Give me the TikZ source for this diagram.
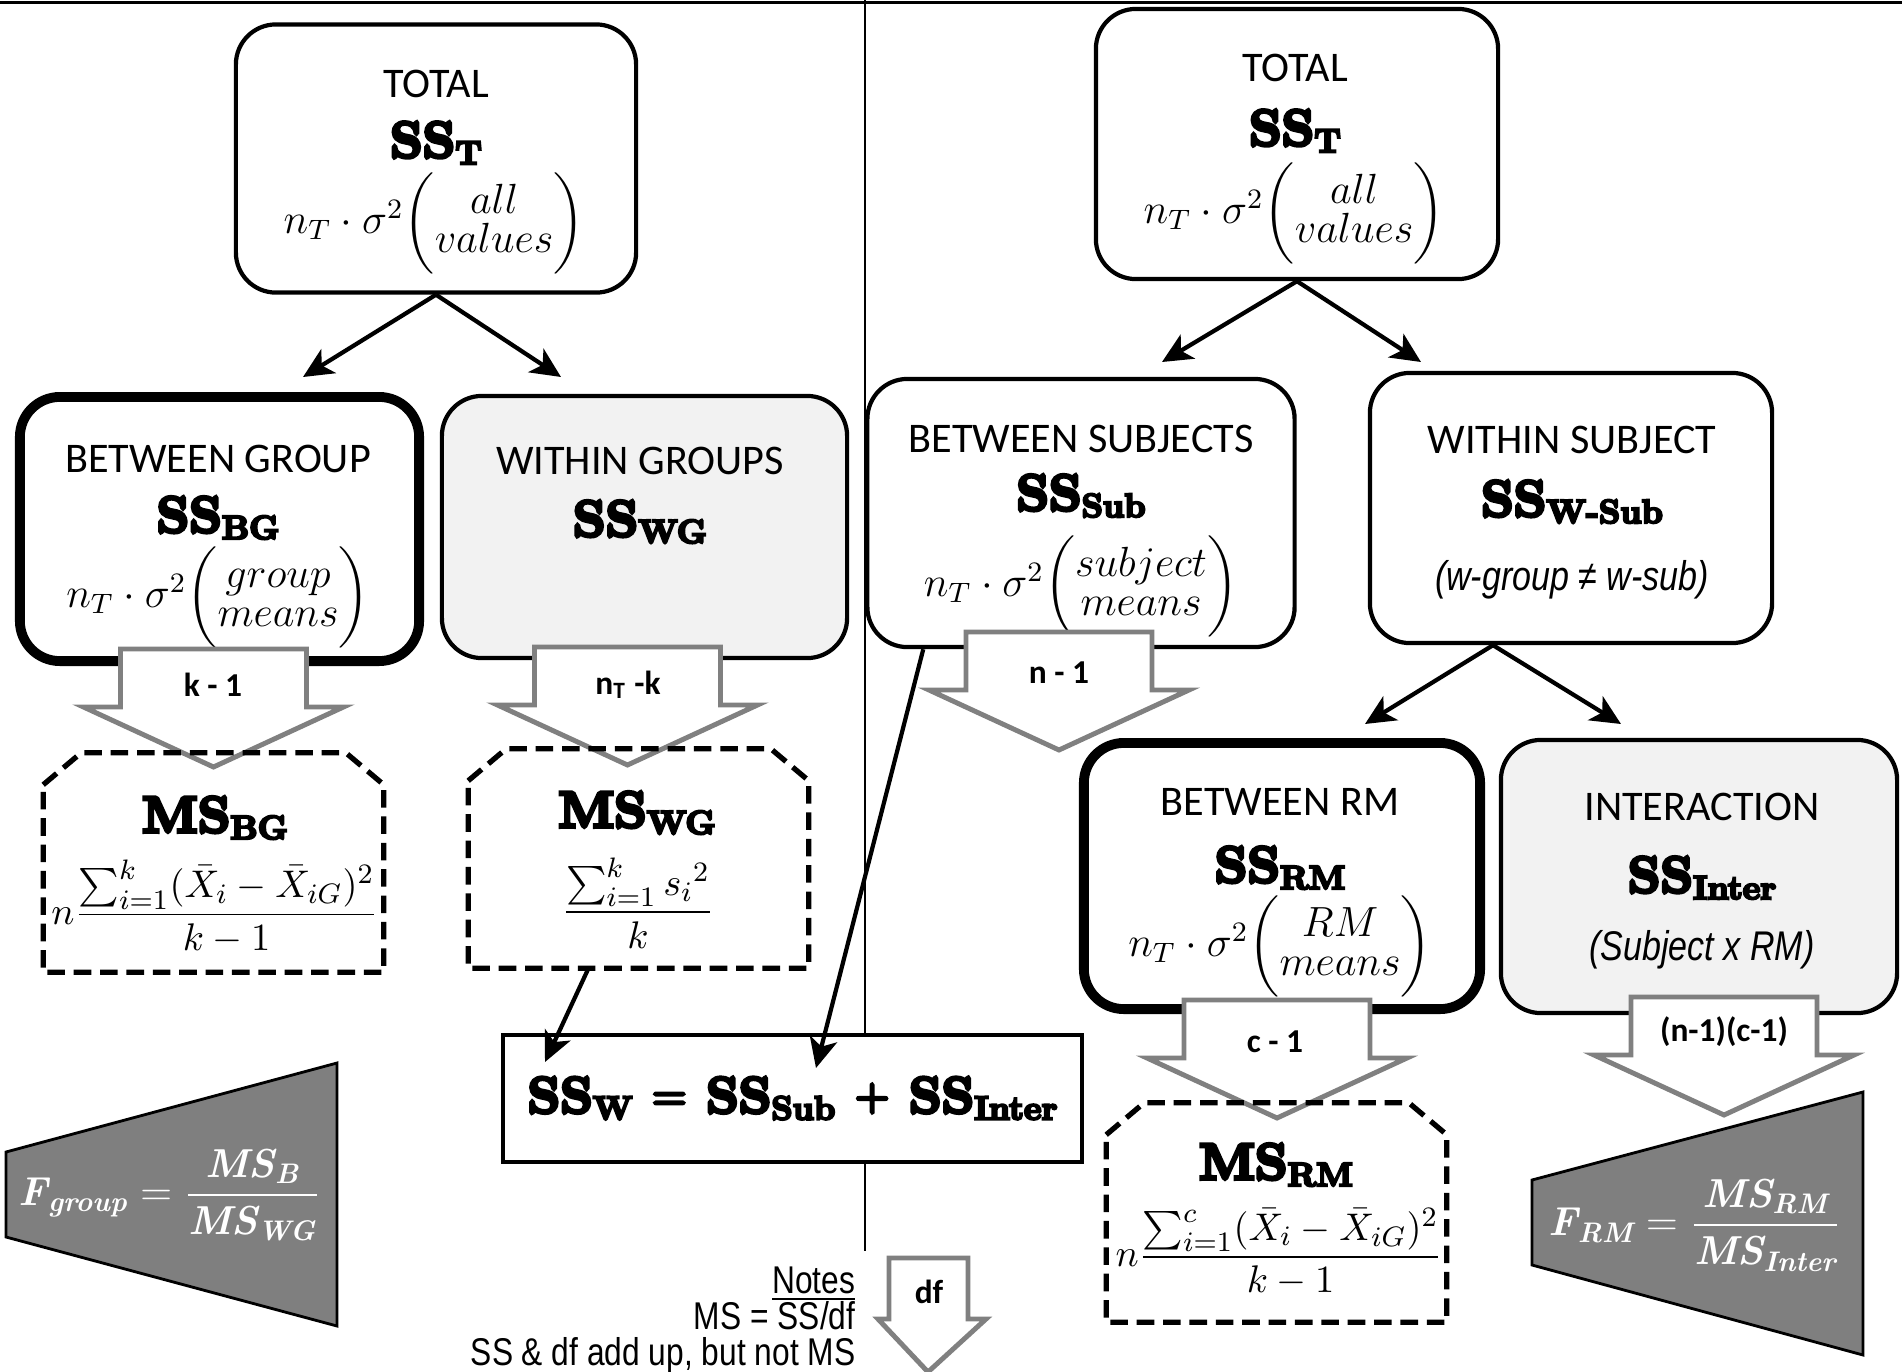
\documentclass[tikz,border=0pt]{standalone}
\usepackage{amsmath}
\usepackage{fontspec}
\setmainfont{Carlito}
\newfontfamily\narrowsans[FakeStretch=0.82]{Liberation Sans}
\newfontfamily\heavyserif[FakeBold=7]{lmroman10-bold.otf}
\newfontfamily\ratiofont{lmroman10-bolditalic.otf}
\usetikzlibrary{arrows.meta,calc}

\definecolor{boxgrey}{HTML}{F2F2F2}
\definecolor{arrowgrey}{HTML}{808080}
\definecolor{fgrey}{HTML}{7F7F7F}

% heavy name with a lowered index, e.g. SS_BG
\newcommand{\heavyname}[2]{{\heavyserif\fontsize{14.5}{15}\selectfont #1\raisebox{-0.3ex}{\fontsize{9.5}{9.5}\selectfont #2}}}
\newcommand{\heavysign}[1]{\raisebox{0.2ex}{\heavyserif\fontsize{11}{11}\selectfont #1}}
% two stacked words in brackets
\newcommand{\spread}[2]{\biggl(\begin{array}{@{}c@{}}#1\\[-3pt]#2\end{array}\biggr)}
% F ratio in bold italic
\newcommand{\rt}[1]{\text{\ratiofont #1}}
\newcommand{\fratio}[3]{$\displaystyle\rt{F}_{\rt{#1}}=\frac{\rt{MS}_{\rt{#2}}}{\rt{MS}_{\rt{#3}}}$}

\tikzset{
  ssbox/.style={draw, line width=1.2pt, rounded corners=0.4cm, fill=white,
    minimum width=4cm, minimum height=2.68cm},
  mainbox/.style={ssbox, line width=2.8pt},
  restbox/.style={ssbox, fill=boxgrey},
  msbox/.style={minimum width=3.39cm, minimum height=2.18cm, inner sep=0pt},
  msline/.style={line width=1.5pt, dash pattern=on 5pt off 2.5pt},
  headtext/.style={font=\fontsize{12}{14}\selectfont},
  formula/.style={font=\fontsize{12}{14}\selectfont, inner sep=0pt},
  msformula/.style={font=\fontsize{11}{13}\selectfont},
  remark/.style={font=\narrowsans\itshape\fontsize{11.8}{14}\selectfont},
  dflabel/.style={font=\bfseries\fontsize{9.5}{11}\selectfont},
  splitarrow/.style={-{Stealth[length=0.3cm,width=0.28cm,inset=0.08cm]}, line width=1.2pt},
  dfline/.style={draw=arrowgrey, line width=1.4pt, fill=white, line join=miter},
  ftrap/.style={fill=fgrey, draw=black, line width=0.8pt},
  ftext/.style={text=white, font=\fontsize{11.5}{13}\selectfont},
  dfarrow/.pic={\path[dfline] (-93,-58) -- (93,-58) -- (93,0) -- (130,0) -- (0,60)
    -- (-130,0) -- (-93,0) -- cycle;}
}

\begin{document}
\begin{tikzpicture}[x=0.01cm, y=-0.01cm, inner sep=1pt]
\useasboundingbox[fill=white] (0,0) rectangle (1902,1372);

% frame
\draw[line width=0.6pt] (0,2.5) -- (1902,2.5);
\draw[line width=0.6pt] (865,0) -- (865,1251);

% sum of the within parts
\node[draw, line width=1pt, fill=white, minimum width=5.79cm, minimum height=1.27cm] (ssw) at (792.5,1098.5)
  {{\heavyserif\fontsize{14.5}{15}\selectfont \heavyname{SS}{W} \heavysign{=} \heavyname{SS}{Sub} \heavysign{+} \heavyname{SS}{Inter}}};

% between groups design
\node[ssbox] (totL) at (436,158.5) {};
\node[mainbox, minimum width=3.99cm, minimum height=2.64cm] (bg) at (219.5,529) {};
\node[restbox, minimum width=4.05cm, minimum height=2.62cm] (wg) at (644.5,527) {};

\node[headtext] (totL head) at (436,84) {TOTAL};
\node (totL ss) at (436,143) {\heavyname{SS}{T}};
\node[formula] (totL var) at (434,223) {$n_T\cdot\sigma^2\spread{all}{values}$};

\node[headtext] (bg head) at (218,459) {BETWEEN GROUP};
\node (bg ss) at (218,518) {\heavyname{SS}{BG}};
\node[formula] (bg var) at (218,597) {$n_T\cdot\sigma^2\spread{group}{means}$};

\node[headtext] (wg head) at (640,461) {WITHIN GROUPS};
\node (wg ss) at (640,522) {\heavyname{SS}{WG}};

% repeated measures design
\node[ssbox, minimum width=4.02cm, minimum height=2.7cm] (totR) at (1297,144) {};
\node[ssbox, minimum width=4.27cm] (bsub) at (1081,513) {};
\node[ssbox, minimum width=4.02cm, minimum height=2.7cm] (wsub) at (1571,508) {};
\node[mainbox, minimum width=3.96cm, minimum height=2.66cm] (brm) at (1282,876) {};
\node[restbox, minimum width=3.96cm, minimum height=2.73cm] (inter) at (1699,876.5) {};

\node[headtext] (totR head) at (1295,68) {TOTAL};
\node (totR ss) at (1295,131) {\heavyname{SS}{T}};
\node[formula] (totR var) at (1294,213) {$n_T\cdot\sigma^2\spread{all}{values}$};

\node[headtext] (bsub head) at (1081,439) {BETWEEN SUBJECTS};
\node (bsub ss) at (1081,496) {\heavyname{SS}{Sub}};
\node[formula] (bsub var) at (1081,586) {$n_T\cdot\sigma^2\spread{subject}{means}$};

\node[headtext] (wsub head) at (1572,440) {WITHIN SUBJECT};
\node (wsub ss) at (1572,502) {\heavyname{SS}{W-Sub}};
\node[remark] (wsub note) at (1572,580) {(w-group ≠ w-sub)};

\node[headtext] (brm head) at (1280,802) {BETWEEN RM};
\node (brm ss) at (1280,868) {\heavyname{SS}{RM}};
\node[formula] (brm var) at (1280,946) {$n_T\cdot\sigma^2\spread{RM}{means}$};

\node[headtext] (inter head) at (1702,807) {INTERACTION};
\node (inter ss) at (1702,878) {\heavyname{SS}{Inter}};
\node[remark] (inter note) at (1702,950) {(Subject x RM)};

% splits
\coordinate (bg in) at (303,377);
\coordinate (wg in) at (561,377);
\coordinate (bsub in) at (1162,362);
\coordinate (wsub in) at (1421,362);
\coordinate (brm in) at (1365,724);
\coordinate (inter in) at (1621,724);
\coordinate (ssw left) at (545,1062);
\coordinate (ssw sub) at (816,1068);

\draw[splitarrow] (totL.south) -- (bg in);
\draw[splitarrow] (totL.south) -- (wg in);
\draw[splitarrow] (totR.south) -- (bsub in);
\draw[splitarrow] (totR.south) -- (wsub in);
\draw[splitarrow] ($(wsub.south)+(-78,0)$) -- (brm in);
\draw[splitarrow] ($(wsub.south)+(-78,0)$) -- (inter in);
\draw[splitarrow] ($(bsub.south west)+(58,0)$) -- (ssw sub);

% degrees of freedom
\pic at (213.5,707) {dfarrow};
\pic at (627.5,705) {dfarrow};
\pic at (1059,690) {dfarrow};
\pic at (1277,1058) {dfarrow};
\pic at (1724,1055) {dfarrow};
\node[dflabel] (bg df) at (213,685) {k - 1};
\node[dflabel] (wg df) at (628,685) {n\textsubscript{T} -k};
\node[dflabel] (bsub df) at (1059,673) {n - 1};
\node[dflabel] (brm df) at (1275,1042) {c - 1};
\node[dflabel] (inter df) at (1724,1032) {(n-1)(c-1)};

% mean squares
\node[msbox] (msbg) at (213.5,862.5) {};
\node[msbox] (mswg) at (638.5,858.5) {};
\node[msbox] (msrm) at (1276.5,1212.5) {};
\draw[msline] ([yshift=-0.32cm]msbg.north west) -- ([xshift=0.38cm]msbg.north west)
  -- ([xshift=-0.38cm]msbg.north east) -- ([yshift=-0.32cm]msbg.north east)
  -- (msbg.south east) -- (msbg.south west) -- cycle;
\draw[msline] ([yshift=-0.32cm]mswg.north west) -- ([xshift=0.38cm]mswg.north west)
  -- ([xshift=-0.38cm]mswg.north east) -- ([yshift=-0.32cm]mswg.north east)
  -- (mswg.south east) -- (mswg.south west) -- cycle;
\draw[msline] ([yshift=-0.32cm]msrm.north west) -- ([xshift=0.38cm]msrm.north west)
  -- ([xshift=-0.38cm]msrm.north east) -- ([yshift=-0.32cm]msrm.north east)
  -- (msrm.south east) -- (msrm.south west) -- cycle;

\node (msbg ms) at (215,818) {\heavyname{MS}{BG}};
\node[msformula] (msbg eq) at (215,907)
  {$\displaystyle n\frac{\sum_{i=1}^{k}(\bar{X}_i-\bar{X}_{iG})^2}{k-1}$};
\node (mswg ms) at (637,813) {\heavyname{MS}{WG}};
\node[msformula] (mswg eq) at (638,903) {$\displaystyle\frac{\sum_{i=1}^{k}{s_i}^2}{k}$};
\node (msrm ms) at (1276,1165) {\heavyname{MS}{RM}};
\node[msformula] (msrm eq) at (1279,1252)
  {$\displaystyle n\frac{\sum_{i=1}^{c}(\bar{X}_i-\bar{X}_{iG})^2}{k-1}$};

\draw[splitarrow] ($(mswg.south)+(-50,0)$) -- (ssw left);

% F ratios
\draw[ftrap] (6,1152) -- (337,1063) -- (337,1326) -- (6,1237) -- cycle;
\node[ftext] (fgroup) at (170,1195) {\fratio{group}{B}{WG}};
\draw[ftrap] (1532,1180) -- (1863,1092) -- (1863,1355) -- (1532,1265) -- cycle;
\node[ftext] (frm) at (1695,1225) {\fratio{RM}{RM}{Inter}};

% notes
\node[font=\narrowsans\fontsize{11}{10.3}\selectfont, align=right, anchor=east, inner sep=0pt] (notes) at (856,1320)
  {\underline{Notes}\\MS = SS/df\\SS \& df add up, but not MS};
\path[dfline] (889,1258) -- (968,1258) -- (968,1319) -- (986,1319) -- (928,1372)
  -- (878,1319) -- (889,1319) -- cycle;
\node[dflabel] (df) at (929,1292) {df};
\end{tikzpicture}
\end{document}
